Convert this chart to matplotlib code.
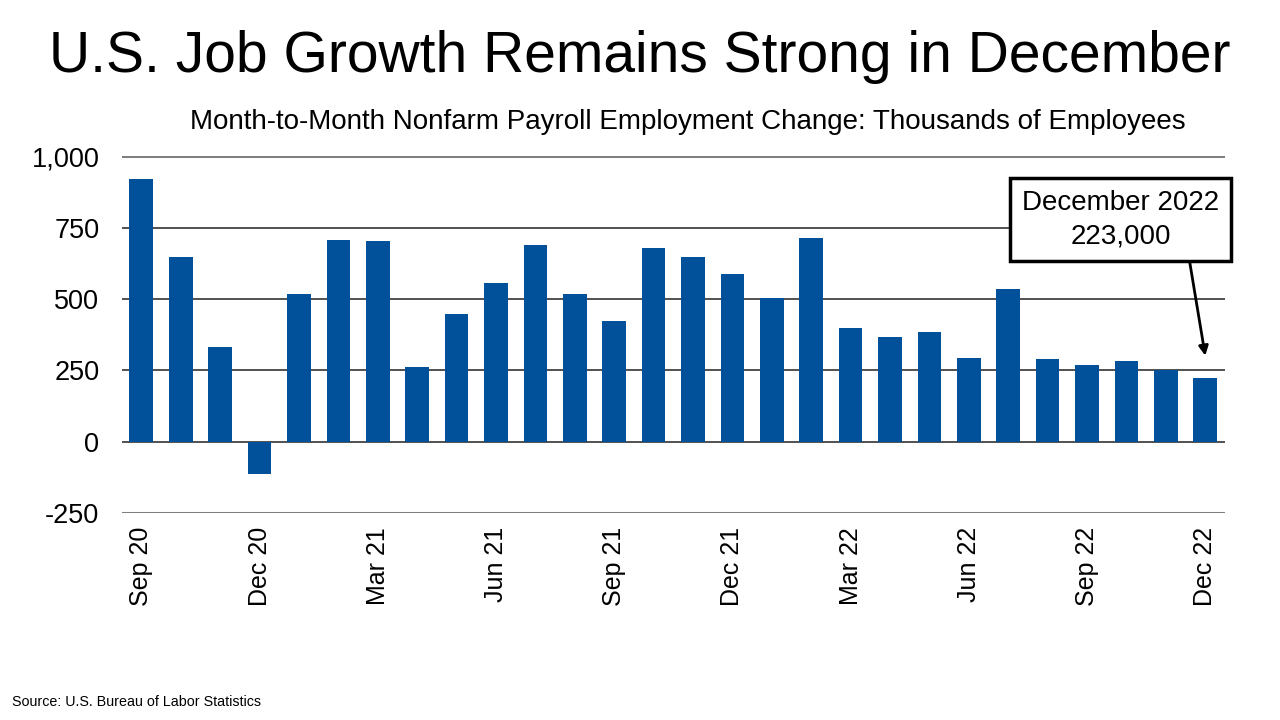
import numpy as np
import matplotlib.pyplot as plt
from matplotlib.ticker import FuncFormatter

plt.rcParams['font.family'] = ['Liberation Sans', 'DejaVu Sans']

# Monthly nonfarm payroll change, thousands (Sep 2020 - Dec 2022)
months = ['Sep 20', 'Oct 20', 'Nov 20', 'Dec 20', 'Jan 21', 'Feb 21', 'Mar 21',
          'Apr 21', 'May 21', 'Jun 21', 'Jul 21', 'Aug 21', 'Sep 21', 'Oct 21',
          'Nov 21', 'Dec 21', 'Jan 22', 'Feb 22', 'Mar 22', 'Apr 22', 'May 22',
          'Jun 22', 'Jul 22', 'Aug 22', 'Sep 22', 'Oct 22', 'Nov 22', 'Dec 22']
payroll_change = [919, 647, 331, -115, 519, 708, 704, 262, 447, 557, 690, 518,
                  422, 678, 647, 587, 504, 714, 398, 366, 385, 292, 535, 290,
                  267, 283, 252, 223]
y_ticks = [-250, 0, 250, 500, 750, 1000]
callout_text = 'December 2022\n223,000'

bar_color = '#00509A'

fig = plt.figure(figsize=(12.8, 7.2), dpi=100)
ax = fig.add_axes([0.095, 0.2875, 0.862, 0.4955])

x = np.arange(len(months))
ax.set_ylim(-250, 1000)
ax.set_xlim(-0.5, len(months) - 0.5)

# horizontal gridlines
for t in y_ticks:
    if t in (1000, -250):
        ax.axhline(t, color='#7f7f7f', lw=2.2, zorder=1)
    else:
        ax.axhline(t, color='#222222', lw=1.1, zorder=1)

ax.bar(x, payroll_change, width=0.6, color=bar_color, zorder=2)

for s in ax.spines.values():
    s.set_visible(False)

ax.set_yticks(y_ticks)
ax.yaxis.set_major_formatter(FuncFormatter(lambda v, p: f'{int(v):,}'))
ax.tick_params(axis='y', length=0, labelsize=19.5, pad=16)

ax.set_xticks(x[::3])
ax.set_xticklabels(months[::3], rotation=90, fontsize=18)
ax.tick_params(axis='x', length=0, pad=10)

# callout for latest month
ax.annotate(callout_text, xy=(x[-1], payroll_change[-1] + 78),
            xytext=(24.85, 778), ha='center', va='center', fontsize=20,
            linespacing=1.35,
            bbox=dict(boxstyle='square,pad=0.42', fc='white', ec='black', lw=2.5),
            arrowprops=dict(arrowstyle='-|>', color='black', lw=2,
                            shrinkA=0, shrinkB=0, mutation_scale=14,
                            relpos=(0.84, 0.0)),
            zorder=5)

fig.text(0.5, 0.921, 'U.S. Job Growth Remains Strong in December',
         ha='center', va='center', fontsize=41)
fig.text(0.537, 0.831,
         'Month-to-Month Nonfarm Payroll Employment Change: Thousands of Employees',
         ha='center', va='center', fontsize=20)
fig.text(0.009, 0.025, 'Source: U.S. Bureau of Labor Statistics',
         ha='left', va='center', fontsize=10.3)

fig.savefig('out.png', dpi=100)
